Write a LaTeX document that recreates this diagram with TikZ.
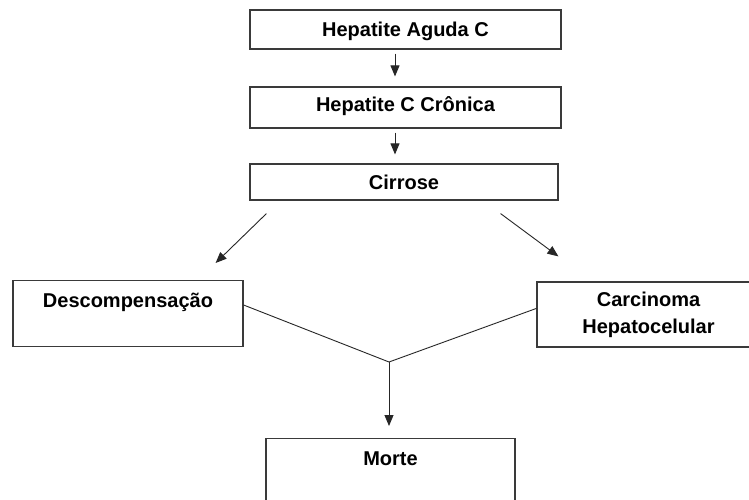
\documentclass[tikz,border=0pt]{standalone}
\usepackage{fontspec}
\setmainfont{Liberation Sans}
\usetikzlibrary{arrows.meta}
\definecolor{boxline}{HTML}{3A3A3A}
\tikzset{
  box/.style={draw=boxline, line width=1.2pt, rectangle, inner sep=0pt,
    font=\fontsize{20}{27}\selectfont\bfseries, text=black, align=center},
  arr/.style={draw=black!85, line width=0.9pt, -{Triangle[length=11pt,width=9pt]}},
  ln/.style={draw=black!85, line width=0.9pt}
}
\begin{document}
\begin{tikzpicture}[x=1pt,y=-1pt]
\useasboundingbox (0,0) rectangle (749,500);
\fill[white] (0,0) rectangle (749,500);
\node[box, minimum width=311pt, minimum height=39pt, text height=14.3pt, text depth=0pt] (b1) at (405.5,29.5) {Hepatite Aguda C};
\node[box, minimum width=311pt, minimum height=41pt, text height=14.3pt, text depth=7pt] (b2) at (405.5,107.5) {Hepatite C Crônica};
\node[box, minimum width=308pt, minimum height=36pt, text height=14.3pt, text depth=0pt] (b3) at (404,182) {Cirrose};
\node[box, minimum width=230pt, inner ysep=13pt, text height=14pt, text depth=26pt, anchor=north] (desc) at (128,280) {Descompensação};
\node[box, minimum width=223pt, minimum height=65pt] (carc) at (648.5,314.5) {Carcinoma\\Hepatocelular};
\node[box, minimum width=249pt, inner ysep=13pt, text height=14pt, text depth=50pt, anchor=north] (morte) at (390.5,438) {Morte};
\coordinate (j) at (389,362);
\draw[arr] ([xshift=-10.5pt,yshift=-4pt]b1.south) -- ([xshift=-10.5pt,yshift=10pt]b2.north);
\draw[arr] ([xshift=-10.5pt,yshift=-4pt]b2.south) -- ([xshift=-9pt,yshift=9pt]b3.north);
\draw[arr] ([xshift=17pt,yshift=-13pt]b3.south west) -- ([xshift=-28pt,yshift=17pt]desc.north east);
\draw[arr] ([xshift=-58pt,yshift=-13pt]b3.south east) -- ([xshift=22pt,yshift=25pt]carc.north west);
\draw[ln] ([yshift=-25pt]desc.north east) -- (j);
\draw[ln] ([yshift=-27pt]carc.north west) -- (j);
\draw[arr] (j) -- ([xshift=-1.5pt,yshift=12pt]morte.north);
\end{tikzpicture}
\end{document}
